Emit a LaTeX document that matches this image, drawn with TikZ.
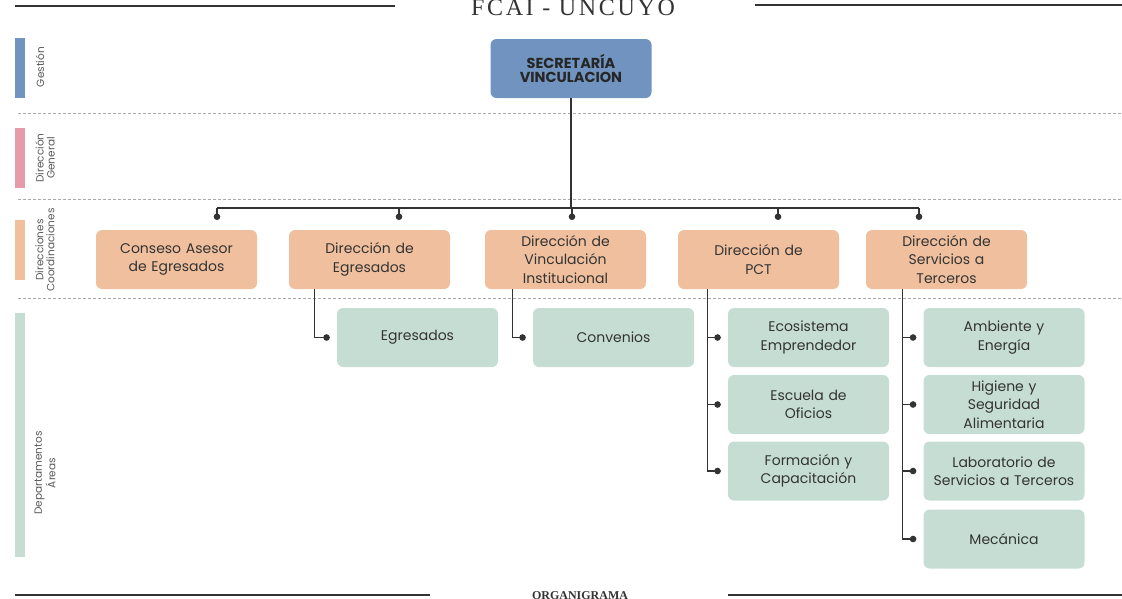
\documentclass[tikz,border=0pt]{standalone}
\usepackage{fontspec}
\setmainfont{Liberation Serif}
\newfontfamily\boxfont{Poppins}
\usetikzlibrary{arrows.meta,calc}

\definecolor{gestion}{HTML}{7094BF}
\definecolor{general}{HTML}{E59BAA}
\definecolor{direc}{HTML}{F0C09E}
\definecolor{areas}{HTML}{C6DDD4}
\definecolor{ink}{HTML}{333333}
\definecolor{wire}{HTML}{333333}
\definecolor{guide}{HTML}{AAAAAA}

\tikzset{
  unitbox/.style={rounded corners=6pt, minimum width=161pt, minimum height=59pt,
    inner sep=0pt, text width=160pt, align=center, text=ink,
    font=\boxfont\fontsize{14}{18.5}\selectfont},
  secbox/.style={unitbox, fill=gestion, text=black!85,
    font=\boxfont\bfseries\fontsize{14.5}{14}\selectfont},
  dirbox/.style={unitbox, fill=direc},
  areabox/.style={unitbox, fill=areas},
  conn/.style={draw=wire, line width=1.2pt},
  tap/.style={conn, -{Circle[length=6.5pt,width=6.5pt]}},
  subtap/.style={tap, shorten >=7pt},
  lane/.style={draw=guide, line width=0.9pt, dash pattern=on 3pt off 2pt},
  rule/.style={draw=wire, line width=1.2pt},
  lanelabel/.style={rotate=90, align=center, text=black!65,
    font=\boxfont\fontsize{10.5}{11}\selectfont, inner sep=0pt}
}

\begin{document}
\begin{tikzpicture}[x=1pt, y=-1pt]
\useasboundingbox (0,0) rectangle (1122,598);

% header and footer rules
\draw[rule] (15,6) -- (395,6);
\draw[rule] (755,5) -- (1122,5);
\node[anchor=base, text=black!80, inner sep=0pt,
  font=\fontsize{24}{24}\selectfont\addfontfeature{LetterSpace=11}] (title) at (573,15) {FCAI - UNCUYO};
\draw[rule] (15,595) -- (430,595);
\draw[rule] (728,595) -- (1122,595);
\node[anchor=base, text=black!80, inner sep=0pt,
  font=\bfseries\fontsize{12}{12}\selectfont] (foot) at (580,599) {ORGANIGRAMA};

% lane separators
\draw[lane] (18,113) -- (1122,113);
\draw[lane] (18,199) -- (1122,199);
\draw[lane] (18,298) -- (1122,298);

% lane markers
\fill[gestion] (15,38) rectangle (25,98);
\fill[general] (15,128) rectangle (25,188);
\fill[direc]   (15,220) rectangle (25,280);
\fill[areas]   (15,313) rectangle (25,557);
\node[lanelabel] (l1) at (40,67)  {Gestión};
\node[lanelabel] (l2) at (45,158) {Dirección\\General};
\node[lanelabel] (l3) at (45,250) {Direcciones\\Coordinaciones};
\node[lanelabel] (l4) at (45,473) {Departamentos\\Áreas};

% management
\node[secbox] (sec) at (571,68.5) {SECRETARÍA\\VINCULACION};

% directions
\node[dirbox] (d1) at (176.5,259.5) {Conseso Asesor\\de Egresados};
\node[dirbox] (d2) at (369.5,259.5) {Dirección de\\Egresados};
\node[dirbox] (d3) at (565.5,259.5) {Dirección de\\Vinculación\\Institucional};
\node[dirbox] (d4) at (758.5,259.5) {Dirección de\\PCT};
\node[dirbox] (d5) at (946.5,259.5) {Dirección de\\Servicios a\\Terceros};

% areas
\node[areabox] (a1) at (417.5,337.5) {Egresados};
\node[areabox] (a2) at (613.5,337.5) {Convenios};
\node[areabox] (b1) at (808.5,337.5) {Ecosistema\\Emprendedor};
\node[areabox] (b2) at (808.5,404.5) {Escuela de\\Oficios};
\node[areabox] (b3) at (808.5,471)   {Formación y\\Capacitación};
\node[areabox] (c1) at (1004,337.5)  {Ambiente y\\Energía};
\node[areabox] (c2) at (1004,404.5)  {Higiene y\\Seguridad\\Alimentaria};
\node[areabox] (c3) at (1004,471)    {Laboratorio de\\Servicios a Terceros};
\node[areabox] (c4) at (1004,539)    {Mecánica};

% bus from the secretariat to the directions
\coordinate (bus) at (571,208);
\coordinate (t1) at (217,220);
\coordinate (t2) at (399,220);
\coordinate (t3) at (572,220);
\coordinate (t4) at (778,220);
\coordinate (t5) at (919,220);
\draw[conn] (sec.south) -- (bus);
\draw[conn] (t1 |- bus) -- (t5 |- bus);
\foreach \t in {t1,t2,t3,t4,t5}
  \draw[tap] (\t |- bus) -- (\t);

% branches from each direction to its areas
\coordinate (s2) at ($(d2.south west)+(26,0)$);
\coordinate (s3) at ($(d3.south west)+(28,0)$);
\coordinate (s4) at ($(d4.south west)+(30,0)$);
\coordinate (s5) at ($(d5.south west)+(37,0)$);
\draw[subtap] (s2) |- (a1.west);
\draw[subtap] (s3) |- (a2.west);
\foreach \b in {b1,b2,b3}
  \draw[subtap] (s4) |- (\b.west);
\foreach \c in {c1,c2,c3,c4}
  \draw[subtap] (s5) |- (\c.west);
\end{tikzpicture}
\end{document}
